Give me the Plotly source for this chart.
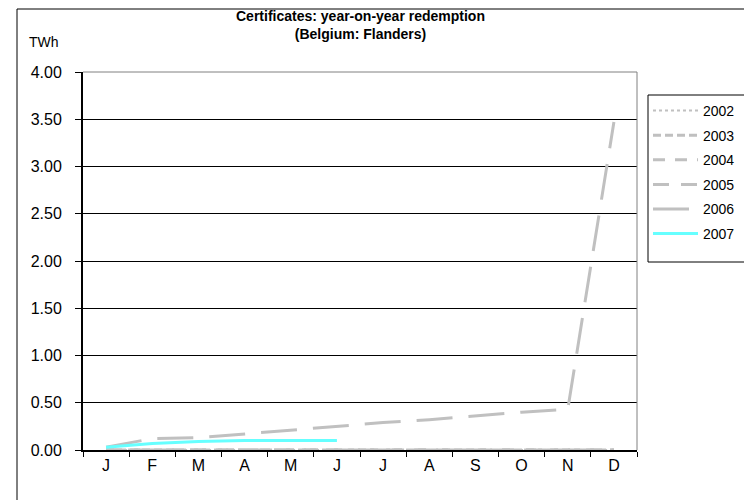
import plotly.graph_objects as go

months = ["Jan", "Feb", "Mar", "Apr", "May", "Jun", "Jul", "Aug", "Sep", "Oct", "Nov", "Dec"]
month_labels = ["J", "F", "M", "A", "M", "J", "J", "A", "S", "O", "N", "D"]

y2002 = [0, 0, 0, 0, 0, 0, 0, 0, 0, 0, 0, 0]
y2003 = [0, 0, 0, 0, 0, 0, 0, 0, 0, 0, 0, 0]
y2004 = [0, 0, 0, 0, 0, 0, 0, 0, 0, 0, 0, 0]
y2005 = [0, 0, 0, 0, 0, 0, 0, 0, 0, 0, 0, 0]
y2006 = [0.03, 0.12, 0.13, 0.17, 0.21, 0.25, 0.29, 0.32, 0.36, 0.40, 0.43, 3.47]
y2007 = [0.03, 0.07, 0.09, 0.10, 0.10, 0.10]

years = ["2002", "2003", "2004", "2005", "2006", "2007"]
y_ticks = [0, 0.5, 1, 1.5, 2, 2.5, 3, 3.5, 4]

gray = "#C0C0C0"
styles = [
    dict(color=gray, width=2, dash="dot"),
    dict(color=gray, width=3, dash="8px,4px"),
    dict(color=gray, width=3, dash="12px,10px"),
    dict(color=gray, width=3, dash="16px,12px"),
    dict(color=gray, width=3, dash="36px,16px"),
    dict(color="#66FFFF", width=3, dash="solid"),
]
series = [y2002, y2003, y2004, y2005, y2006, y2007]

fig = go.Figure()
for name, ys, st in zip(years, series, styles):
    fig.add_trace(go.Scatter(
        x=months[:len(ys)], y=ys, name=name, mode="lines",
        line=st, legendgroup=name,
    ))

FONT = "Liberation Sans, Arial, sans-serif"
OFF = 8  # page body margin
W, H = 752, 500
# target pixel positions in the screenshot
px_l, px_r, px_t, px_b = 83, 637, 72, 450
L, T = px_l - OFF, px_t - OFF
pw, ph = px_r - px_l, px_b - px_t
R = W - L - pw
B = H - T - ph


def px_x(x):
    return (x - px_l) / pw


def px_y(y):
    return (px_b - y) / ph


fig.update_layout(
    width=W, height=H,
    margin=dict(l=L, r=R, t=T, b=B, pad=0),
    paper_bgcolor="white", plot_bgcolor="white",
    font=dict(family=FONT, size=14, color="black"),
    showlegend=True,
    legend=dict(
        x=px_x(648), y=px_y(95), xanchor="left", yanchor="top",
        borderwidth=0, bgcolor="rgba(0,0,0,0)",
        font=dict(family=FONT, size=14, color="black"),
        tracegroupgap=3.4, traceorder="grouped", itemwidth=45,
    ),
    xaxis=dict(
        type="category", categoryorder="array", categoryarray=months,
        tickmode="array", tickvals=months, ticktext=month_labels,
        tickson="boundaries", ticks="outside", ticklen=5, tickcolor="black",
        tickfont=dict(family=FONT, size=16, color="black"),
        showline=True, linecolor="black", linewidth=2,
        showgrid=False, zeroline=False, range=[-0.5, 11.5],
    ),
    yaxis=dict(
        range=[0, 4], tickvals=y_ticks, tickformat=".2f",
        ticks="outside", ticklen=6, tickcolor="black",
        tickfont=dict(family=FONT, size=16, color="black"),
        ticklabelstandoff=10,
        showline=True, linecolor="black", linewidth=2,
        showgrid=True, gridcolor="black", gridwidth=1, zeroline=False,
    ),
    annotations=[
        dict(
            text="<b>Certificates: year-on-year redemption<br>(Belgium: Flanders)</b>",
            xref="paper", yref="paper", x=0.5, y=px_y(25),
            xanchor="center", yanchor="middle", align="center",
            showarrow=False, font=dict(family=FONT, size=14, color="black"),
        ),
        dict(
            text="TWh", xref="paper", yref="paper",
            x=px_x(27), y=px_y(42), xanchor="left", yanchor="middle",
            showarrow=False, font=dict(family=FONT, size=14, color="black"),
        ),
    ],
    shapes=[
        dict(type="line", xref="paper", yref="paper", x0=0, x1=1, y0=1, y1=1,
             line=dict(color="#808080", width=1), layer="above"),
        dict(type="line", xref="paper", yref="paper", x0=1, x1=1, y0=0, y1=1,
             line=dict(color="#808080", width=1), layer="above"),
        dict(type="rect", xref="paper", yref="paper",
             x0=px_x(17), x1=1.4, y0=-0.4, y1=px_y(9),
             line=dict(color="black", width=1), layer="below"),
        dict(type="rect", xref="paper", yref="paper",
             x0=px_x(648), x1=px_x(745), y0=px_y(262), y1=px_y(95),
             line=dict(color="black", width=1), layer="below"),
    ],
)

fig.write_html("out.html")
